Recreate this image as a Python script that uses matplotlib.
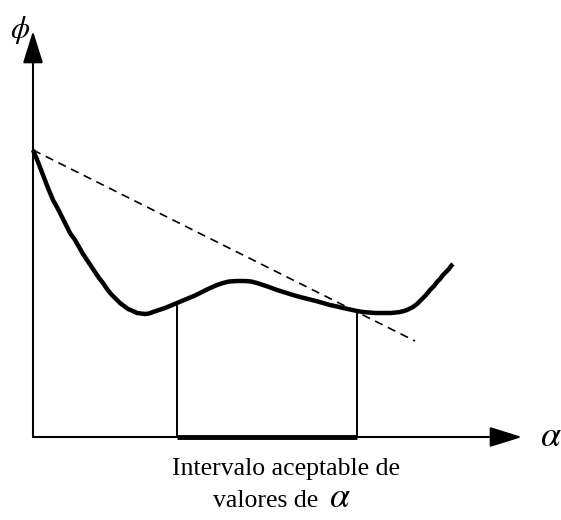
import matplotlib
matplotlib.use("Agg")
import matplotlib.pyplot as plt

plt.rcParams['font.family'] = ['Liberation Serif', 'DejaVu Serif']
plt.rcParams['mathtext.fontset'] = 'stix'

# curve phi(alpha) (origin at the axes corner, y up)
curva_x = [0, 5, 10, 15, 20, 25, 29, 33, 37, 42, 46, 50, 54, 58, 62, 66, 70, 74,
           78, 83, 87, 91, 95, 100, 104, 108, 112, 116, 120, 126, 132, 138,
           144, 150, 156, 162, 167, 175, 184, 190, 196, 204, 212, 218, 224, 230,
           236, 244, 252, 260, 267, 275, 283, 290, 297, 304, 310, 317, 324, 330,
           336, 342, 347, 353, 358, 363, 367, 371, 374, 377, 380, 384, 388, 393,
           397, 401, 404, 407, 410, 413, 416, 418, 420]
curva_y = [287, 275, 262, 249, 237, 228, 220, 212, 204, 197, 190, 183, 177, 171,
           165, 159, 154, 148, 143, 138, 134, 131, 128, 126, 124, 123.5, 123, 123.5,
           125, 127, 129, 131.5, 134, 136.5, 139, 141.5, 144, 148, 152, 154, 155.5,
           156, 156, 155.5, 154, 152, 150, 147, 144.5, 142, 140, 138, 136, 134,
           132, 130.5, 129, 127.5, 126, 125, 124.5, 124, 124, 124, 124, 124.5,
           125, 126, 127, 128.5, 130, 133, 137, 142, 147, 151, 155, 158, 162, 165,
           168, 171, 173]

# dashed line
recta_x = [0, 382]
recta_y = [287, 96]

# acceptable interval
intervalo = [144, 324]
intervalo_y = [134, 126]

x_fin = 489   # x axis arrow tip
y_fin = 406   # y axis arrow tip

fig = plt.figure(figsize=(5.61, 5.20), dpi=100)
ax = fig.add_axes([0, 0, 1, 1])
ax.set_xlim(-33, 528)
ax.set_ylim(-83, 437)
ax.axis('off')

flecha = dict(arrowstyle='-|>,head_length=0.8,head_width=0.25', mutation_scale=25,
              lw=1.5, color='black', shrinkA=0, shrinkB=0)
ax.annotate('', xy=(x_fin, 0), xytext=(0, 0), arrowprops=flecha)
ax.annotate('', xy=(0, y_fin), xytext=(0, 0), arrowprops=flecha)

ax.plot(recta_x, recta_y, color='black', lw=1.2, ls=(0, (5, 3.5)))
ax.plot(curva_x, curva_y, color='black', lw=3.2, solid_capstyle='butt',
        solid_joinstyle='round')

for xi, yi in zip(intervalo, intervalo_y):
    ax.plot([xi, xi], [0, yi], color='black', lw=1.4)
ax.plot(intervalo, [0, 0], color='black', lw=3.5, solid_capstyle='butt')

ax.text(-13, 407, r'$\phi$', fontsize=22, ha='center', va='center')
ax.text(518, 0, r'$\alpha$', fontsize=26, ha='center', va='center')

ax.text(253, -38, 'Intervalo aceptable de', fontsize=18.5, ha='center', va='baseline')
ax.text(285, -70, 'valores de', fontsize=18.5, ha='right', va='baseline')
ax.text(307, -70, r'$\alpha$', fontsize=26, ha='center', va='baseline')

fig.savefig('out.png', dpi=100)
